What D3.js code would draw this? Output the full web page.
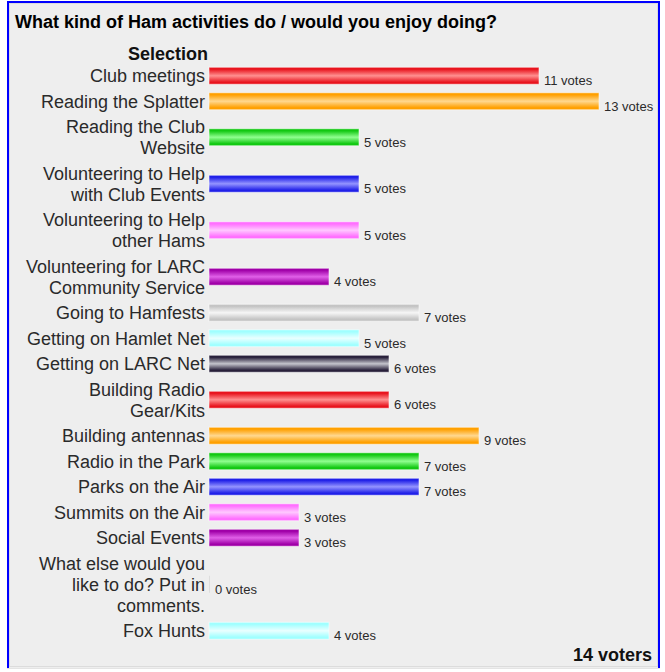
<!DOCTYPE html>
<html>
<head>
<meta charset="utf-8">
<script src="https://cdn.jsdelivr.net/npm/d3@7"></script>
<style>
    html, body { margin: 0; padding: 0; background: #fff; }
    svg { display: block; font-family: Arial, "Liberation Sans", sans-serif; }
</style>
</head>
<body>
<div id="poll"></div>
<script>
'use strict'

////////////////////////////////////
/////////////// data ///////////////
////////////////////////////////////

const title = 'What kind of Ham activities do / would you enjoy doing?'
const columnHeader = 'Selection'
const voters = 14

const categories = [
    'Club meetings',
    'Reading the Splatter',
    'Reading the Club\nWebsite',
    'Volunteering to Help\nwith Club Events',
    'Volunteering to Help\nother Hams',
    'Volunteering for LARC\nCommunity Service',
    'Going to Hamfests',
    'Getting on Hamlet Net',
    'Getting on LARC Net',
    'Building Radio\nGear/Kits',
    'Building antennas',
    'Radio in the Park',
    'Parks on the Air',
    'Summits on the Air',
    'Social Events',
    'What else would you\nlike to do? Put in\ncomments.',
    'Fox Hunts'
]

const votes = [11, 13, 5, 5, 5, 4, 7, 5, 6, 6, 9, 7, 7, 3, 3, 0, 4]

// bar colours repeat in this order: [edge, centre]
const palette = [
    ['#e8141e', '#ff9090'],
    ['#ffa000', '#ffd890'],
    ['#12c812', '#90ff90'],
    ['#2020e8', '#9494ff'],
    ['#ff70ff', '#ffc8ff'],
    ['#a000a8', '#e060e8'],
    ['#c4c4c4', '#f6f6f6'],
    ['#a0ffff', '#eaffff'],
    ['#28203a', '#c4c4cc']
]

////////////////////////////////////
//////////// svg setup /////////////
////////////////////////////////////

const svgWidth = 665
const svgHeight = 672

const svg = d3.select('#poll')
    .append('svg')
    .attr('width', svgWidth)
    .attr('height', svgHeight)

const defs = svg.append('defs')

palette.forEach((c, i) => {
    const g = defs.append('linearGradient')
        .attr('id', 'bar' + i)
        .attr('x1', 0).attr('y1', 0).attr('x2', 0).attr('y2', 1)
    g.append('stop').attr('offset', '0%').attr('stop-color', c[0])
    g.append('stop').attr('offset', '12%').attr('stop-color', c[0])
    g.append('stop').attr('offset', '50%').attr('stop-color', c[1])
    g.append('stop').attr('offset', '88%').attr('stop-color', c[0])
    g.append('stop').attr('offset', '100%').attr('stop-color', c[0])
})

// panel
svg.append('rect')
    .attr('x', 7).attr('y', 1)
    .attr('width', 653).attr('height', 667)
    .attr('fill', '#eeeeee')

svg.append('rect')
    .attr('x', 9.5).attr('y', 3.5)
    .attr('width', 648).attr('height', 663)
    .attr('fill', 'none')
    .attr('stroke', '#dcdcdc')

svg.append('path')
    .attr('d', 'M8,668V2H659V668')
    .attr('fill', 'none')
    .attr('stroke', '#0000ff')
    .attr('stroke-width', 2)

svg.append('line')
    .attr('x1', 7).attr('x2', 660)
    .attr('y1', 668.5).attr('y2', 668.5)
    .attr('stroke', '#e4e4e4')

////////////////////////////////////
////////////// header //////////////
////////////////////////////////////

svg.append('text')
    .attr('x', 15).attr('y', 28)
    .attr('font-size', 18).attr('font-weight', 'bold')
    .attr('fill', '#000')
    .text(title)

svg.append('text')
    .attr('x', 208).attr('y', 60)
    .attr('text-anchor', 'end')
    .attr('font-size', 18).attr('font-weight', 'bold')
    .attr('fill', '#111')
    .text(columnHeader)

////////////////////////////////////
////////////// scales //////////////
////////////////////////////////////

const lineHeight = 21
const rowPad = 4.5

const rows = categories.map((name, i) => {
    const lines = name.split('\n')
    return { name, lines, votes: votes[i], color: i % palette.length, h: rowPad + lines.length * lineHeight }
})

let acc = 0
rows.forEach(r => { r.top = acc; acc += r.h })

const y = d3.scaleLinear().domain([0, acc]).range([63, 63 + acc])
const x = d3.scaleLinear().domain([0, d3.max(votes)]).range([209, 599])

const barH = 17

////////////////////////////////////
//////////// add to DOM ////////////
////////////////////////////////////

const row = svg.append('g')
    .selectAll('g')
    .data(rows)
    .join('g')
    .attr('transform', d => `translate(0,${y(d.top + d.h / 2)})`)

row.append('text')
    .attr('text-anchor', 'end')
    .attr('font-size', 18)
    .attr('fill', '#2a2a2a')
    .selectAll('tspan')
    .data(d => d.lines.map((l, i) => ({ l, i, n: d.lines.length })))
    .join('tspan')
    .attr('x', 205)
    .attr('y', d => -(d.n - 1) * lineHeight / 2 + d.i * lineHeight + 6.5)
    .text(d => d.l)

row.append('rect')
    .attr('x', x(0))
    .attr('y', -barH / 2)
    .attr('width', d => Math.max(1, x(d.votes) - x(0)))
    .attr('height', barH)
    .attr('fill', d => d.votes > 0 ? `url(#bar${d.color})` : '#dddddd')
    .attr('stroke', d => d.votes > 0 ? 'rgba(255,255,255,0.55)' : 'none')
    .attr('stroke-width', 1)

row.append('text')
    .attr('x', d => Math.max(x(d.votes), x(0) + 1) + 5)
    .attr('y', 9.5)
    .attr('font-size', 13)
    .attr('fill', '#2a2a2a')
    .text(d => d.votes + ' votes')

svg.append('text')
    .attr('x', 652).attr('y', 661)
    .attr('text-anchor', 'end')
    .attr('font-size', 18).attr('font-weight', 'bold')
    .attr('fill', '#111')
    .text(voters + ' voters')
</script>
</body>
</html>
